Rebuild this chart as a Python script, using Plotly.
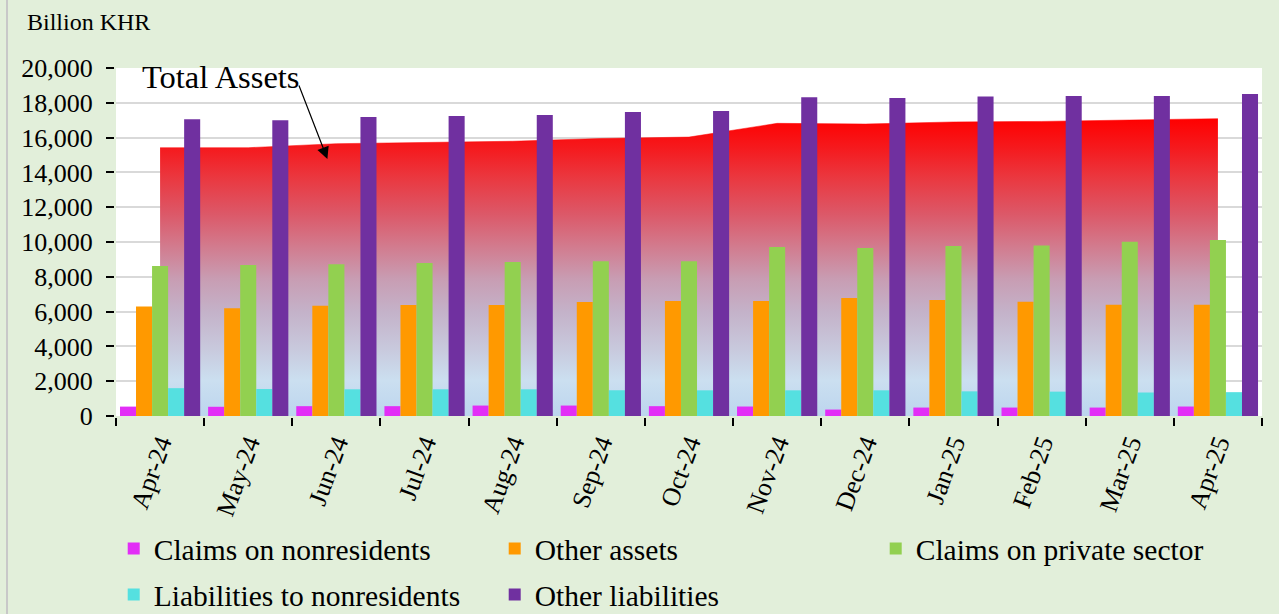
import plotly.graph_objects as go

months = ['Apr-24', 'May-24', 'Jun-24', 'Jul-24', 'Aug-24', 'Sep-24', 'Oct-24',
          'Nov-24', 'Dec-24', 'Jan-25', 'Feb-25', 'Mar-25', 'Apr-25']
claims_nonres = [540, 530, 565, 565, 600, 600, 565, 545, 370, 485, 485, 485, 545]
other_assets = [6300, 6190, 6340, 6380, 6380, 6550, 6610, 6610, 6780, 6670, 6570, 6400, 6400]
claims_private = [8620, 8680, 8720, 8790, 8850, 8900, 8900, 9710, 9660, 9770, 9800, 10010, 10110]
liab_nonres = [1600, 1550, 1535, 1535, 1535, 1480, 1476, 1476, 1476, 1417, 1400, 1350, 1370]
other_liab = [17050, 16990, 17190, 17240, 17300, 17470, 17530, 18320, 18270, 18360, 18390, 18390, 18505]
total_assets = [15420, 15420, 15650, 15710, 15790, 15950, 16030, 16820, 16780, 16900, 16930, 17010, 17090]

series_names = ['Claims on nonresidents', 'Other assets', 'Claims on private sector',
                'Liabilities to nonresidents', 'Other liabilities']
series_values = [claims_nonres, other_assets, claims_private, liab_nonres, other_liab]
series_colors = ['#E22EF6', '#FF9900', '#92D050', '#55E0E0', '#7030A0']
series_legend = ['legend', 'legend', 'legend', 'legend2', 'legend2']

FONT = 'Liberation Serif'
fig = go.Figure()

fig.add_trace(go.Scatter(
    x=months, y=total_assets, mode='lines', name='Total Assets',
    line=dict(color='#ff0000', width=0.5), fill='tozeroy',
    fillgradient=dict(type='vertical', start=0, stop=max(total_assets),
                      colorscale=[[0, '#bcd5ee'], [0.12, '#cbdff0'], [0.23, '#c8c8dc'],
                                  [0.35, '#c4b2c9'], [0.46, '#c89db3'], [0.57, '#d27b8e'],
                                  [0.68, '#dc5868'], [0.8, '#ea3840'], [0.9, '#f51a1e'],
                                  [1, '#ff0000']]),
    showlegend=False, zorder=-1, hoverinfo='skip'))

for name, vals, col, lg in zip(series_names, series_values, series_colors, series_legend):
    fig.add_trace(go.Bar(x=months, y=vals, name=name, marker=dict(color=col, line=dict(width=0)),
                         legend=lg))

leg_common = dict(orientation='h', font=dict(family=FONT, size=29.5, color='black'),
                  bgcolor='rgba(0,0,0,0)', yanchor='middle', xanchor='left',
                  itemwidth=30, entrywidth=336, entrywidthmode='pixels')

fig.update_layout(
    width=1279, height=614,
    paper_bgcolor='#E2EFDA', plot_bgcolor='white',
    margin=dict(l=116, r=17, t=68, b=198, autoexpand=False),
    barmode='group', bargap=0.09, bargroupgap=0,
    font=dict(family=FONT, color='black'),
    xaxis=dict(type='category', range=[-0.5, 12.5], tickson='boundaries',
               ticks='outside', ticklen=8, tickwidth=1.5, tickcolor='black',
               showline=True, linecolor='black', linewidth=2, automargin=False,
               tickangle=-70, tickfont=dict(family=FONT, size=26), showgrid=False),
    yaxis=dict(range=[0, 20000], dtick=2000, tickformat=',d',
               ticks='outside', ticklen=8, tickwidth=1.5, tickcolor='black',
               showline=True, linecolor='black', linewidth=2, automargin=False,
               gridcolor='#d9d9d9', gridwidth=1.5, zeroline=False,
               tickfont=dict(family=FONT, size=26), ticklabelstandoff=8),
    legend=dict(x=-0.002, y=-0.382, **leg_common),
    legend2=dict(x=-0.002, y=-0.514, **leg_common),
    annotations=[
        dict(text='Billion KHR', xref='paper', yref='paper', x=-0.0794, y=1.132,
             xanchor='left', yanchor='middle', showarrow=False,
             font=dict(family=FONT, size=24, color='black')),
        dict(text='Total Assets', xref='paper', yref='paper', x=0.0209, y=0.974,
             xanchor='left', yanchor='middle', showarrow=False,
             font=dict(family=FONT, size=32.5, color='black')),
        dict(text='', x=1.898, y=14770, xref='x', yref='y', ax=-29, ay=-75,
             showarrow=True, arrowhead=2, arrowsize=2, arrowwidth=1.2,
             arrowcolor='black'),
    ],
    shapes=[dict(type='line', xref='paper', yref='paper', x0=-0.0951, x1=-0.0951,
                 y0=-0.6, y1=1.25, line=dict(color='#c8c8c8', width=2))],
)

fig.write_html('out.html', config={'displayModeBar': False},
               post_script="document.body.style.margin='0px';")
